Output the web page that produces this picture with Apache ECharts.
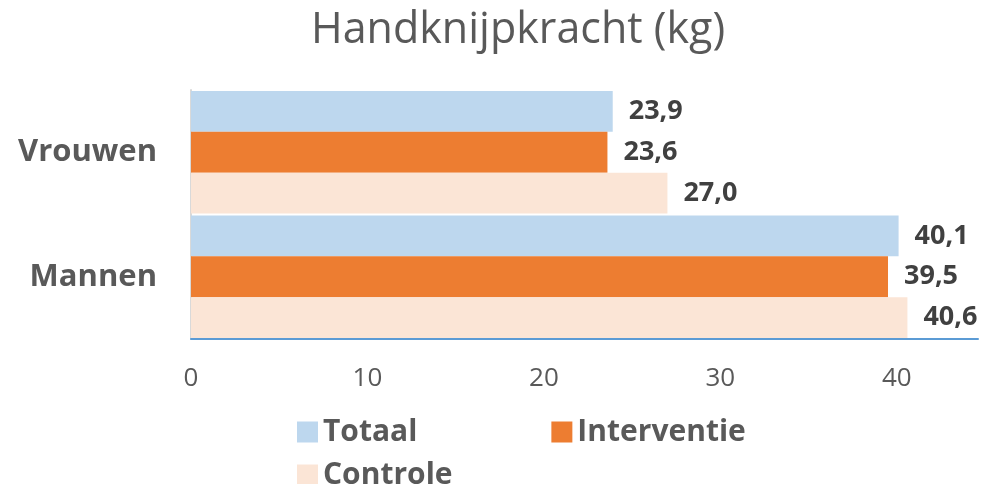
<!DOCTYPE html>
<html>
<head>
<meta charset="utf-8">
<script src="https://cdn.jsdelivr.net/npm/echarts@6/dist/echarts.min.js"></script>
<style>html,body{margin:0;padding:0;background:#fff}#c{width:982px;height:484px}</style>
</head>
<body>
<div id="c"></div>
<script>
const categories = ['Vrouwen', 'Mannen'];
const seriesNames = ['Totaal', 'Interventie', 'Controle'];
const totaal = [23.9, 40.1];
const interventie = [23.6, 39.5];
const controle = [27.0, 40.6];
const xTicks = [0, 10, 20, 30, 40];
const colors = ['#bdd7ee', '#ed7d31', '#fbe5d6'];

const font = '"Open Sans", sans-serif';
const chart = echarts.init(document.getElementById('c'));
const values = [totaal, interventie, controle];

chart.setOption({
  animation: false,
  title: {
    text: 'Handknijpkracht (kg)',
    left: 306,
    top: 4,
    textStyle: { fontFamily: font, fontSize: 43, fontWeight: 'normal', color: '#595959' }
  },
  legend: [
    {
      data: ['Totaal', 'Interventie'],
      left: 292, top: 412,
      itemWidth: 21, itemHeight: 21, itemGap: 134,
      icon: 'rect',
      textStyle: { fontFamily: font, fontSize: 30, fontWeight: 'bold', color: '#595959' }
    },
    {
      data: ['Controle'],
      left: 292, top: 455,
      itemWidth: 21, itemHeight: 21,
      icon: 'rect',
      textStyle: { fontFamily: font, fontSize: 30, fontWeight: 'bold', color: '#595959' }
    }
  ],
  grid: { left: 191, right: 4, top: 90, bottom: 145, containLabel: false },
  xAxis: {
    type: 'value', min: 0, max: 44.6, interval: 10,
    axisLine: { show: true, lineStyle: { color: '#5b9bd5', width: 2 } },
    axisTick: { show: false },
    splitLine: { show: false },
    axisLabel: {
      showMaxLabel: false, margin: 27,
      fontFamily: font, fontSize: 26, color: '#595959',
      formatter: v => xTicks.includes(v) ? String(v) : ''
    }
  },
  yAxis: {
    type: 'category', data: categories, inverse: true,
    axisLine: { show: true, lineStyle: { color: '#d9d9d9', width: 2 } },
    axisTick: { show: false },
    axisLabel: { margin: 34, fontFamily: font, fontSize: 31, fontWeight: 'bold', color: '#595959' }
  },
  series: seriesNames.map((name, i) => ({
    name, type: 'bar', data: values[i],
    barGap: '0%', barCategoryGap: '1.5%',
    itemStyle: { color: colors[i] },
    label: {
      show: true, position: 'right', distance: 16,
      fontFamily: font, fontSize: 27, fontWeight: 'bold', color: '#404040',
      formatter: p => p.value.toFixed(1).replace('.', ',')
    }
  }))
});
</script>
</body>
</html>
